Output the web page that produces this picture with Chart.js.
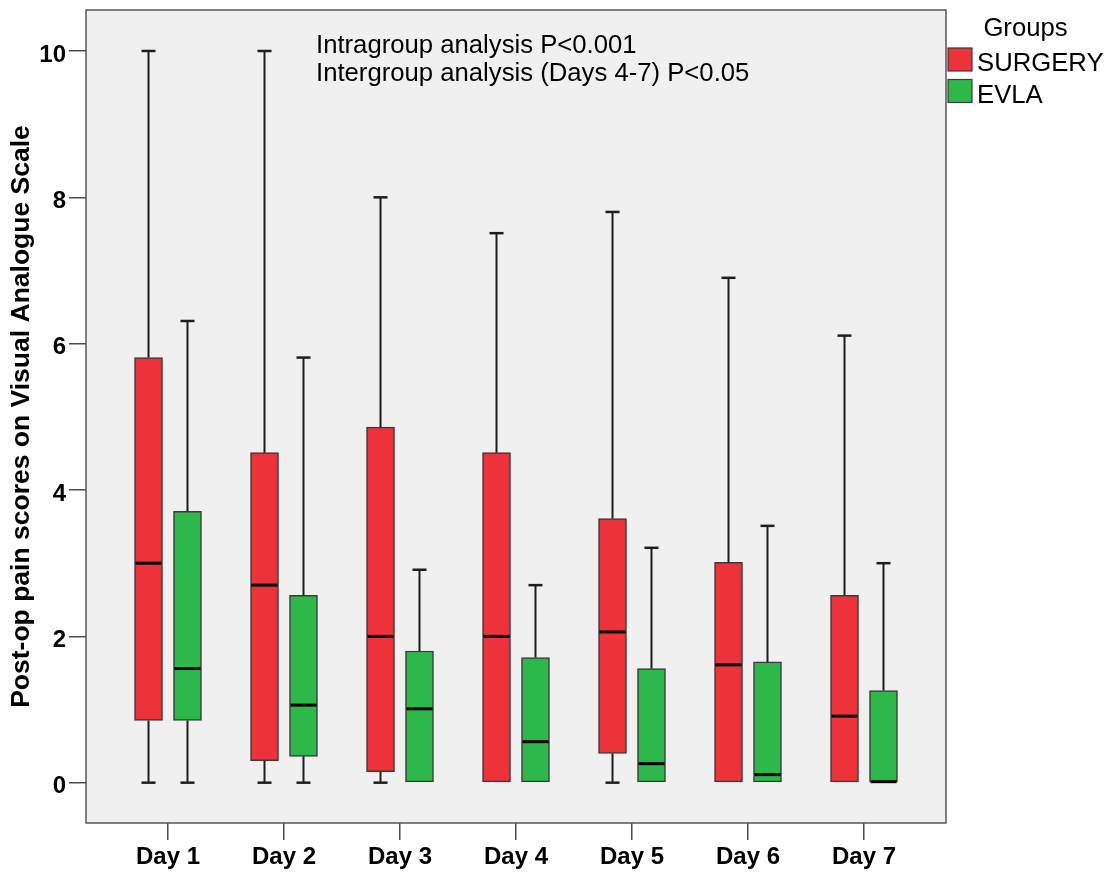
<!DOCTYPE html>
<html><head><meta charset="utf-8">
<script src="https://cdn.jsdelivr.net/npm/chart.js@4.4.1/dist/chart.umd.min.js"></script>
<style>html,body{margin:0;padding:0;background:#fff;}</style>
</head><body>
<canvas id="c" width="1112" height="873"></canvas>
<script>
// ---- data ----
const days = ['Day 1', 'Day 2', 'Day 3', 'Day 4', 'Day 5', 'Day 6', 'Day 7'];
const yTicks = [0, 2, 4, 6, 8, 10];
const groups = ['SURGERY', 'EVLA'];
const surgeryMin    = [0, 0, 0, 0, 0, 0, 0];
const surgeryQ1     = [0.85, 0.30, 0.15, 0, 0.40, 0, 0];
const surgeryMedian = [3.0, 2.70, 2.0, 2.0, 2.06, 1.61, 0.91];
const surgeryQ3     = [5.81, 4.51, 4.86, 4.51, 3.61, 3.01, 2.56];
const surgeryMax    = [10, 10, 8.0, 7.51, 7.80, 6.90, 6.11];
const evlaMin    = [0, 0, 0, 0, 0, 0, 0];
const evlaQ1     = [0.85, 0.36, 0, 0, 0, 0, 0];
const evlaMedian = [1.56, 1.06, 1.01, 0.56, 0.26, 0.11, 0];
const evlaQ3     = [3.71, 2.56, 1.80, 1.71, 1.56, 1.65, 1.26];
const evlaMax    = [6.31, 5.81, 2.91, 2.70, 3.21, 3.51, 3.0];
const noteLines = ['Intragroup analysis P<0.001', 'Intergroup analysis (Days 4-7) P<0.05'];

// ---- styling / layout ----
const RED = '#EE3239', GREEN = '#2DB84A', EDGE = '#3a3a3a';
const FONT = '"Liberation Sans", Arial, sans-serif';
const dayPos = days.map((d, i) => i + 1);
const groupOffset = 0.168;
const stats = [
  {min: surgeryMin, med: surgeryMedian, max: surgeryMax},
  {min: evlaMin, med: evlaMedian, max: evlaMax}
];

const boxPlugin = {
  id: 'boxExtras',
  beforeDraw(chart) {
    const {ctx, chartArea: a} = chart;
    ctx.save();
    ctx.fillStyle = '#f0f0f0';
    ctx.fillRect(a.left, a.top, a.right - a.left, a.bottom - a.top);
    ctx.restore();
  },
  afterDatasetsDraw(chart) {
    const ctx = chart.ctx, ys = chart.scales.y;
    ctx.save();
    stats.forEach((s, d) => {
      const meta = chart.getDatasetMeta(d);
      meta.data.forEach((el, i) => {
        const raw = chart.data.datasets[d].data[i].y;
        const q1 = raw[0], q3 = raw[1];
        const x = el.x, w = el.width;
        ctx.strokeStyle = '#1e1e1e';
        if (s.max[i] > q3) {
          ctx.lineWidth = 2;
          ctx.beginPath(); ctx.moveTo(x, ys.getPixelForValue(q3)); ctx.lineTo(x, ys.getPixelForValue(s.max[i])); ctx.stroke();
          ctx.lineWidth = 2.5;
          ctx.beginPath(); ctx.moveTo(x - 7, ys.getPixelForValue(s.max[i])); ctx.lineTo(x + 7, ys.getPixelForValue(s.max[i])); ctx.stroke();
        }
        if (s.min[i] < q1) {
          ctx.lineWidth = 2;
          ctx.beginPath(); ctx.moveTo(x, ys.getPixelForValue(q1)); ctx.lineTo(x, ys.getPixelForValue(s.min[i])); ctx.stroke();
          ctx.lineWidth = 2.5;
          ctx.beginPath(); ctx.moveTo(x - 7, ys.getPixelForValue(s.min[i])); ctx.lineTo(x + 7, ys.getPixelForValue(s.min[i])); ctx.stroke();
        }
        ctx.strokeStyle = '#000';
        ctx.lineWidth = 3;
        const my = ys.getPixelForValue(s.med[i]) - (s.med[i] <= q1 ? 1 : 0);
        ctx.beginPath(); ctx.moveTo(x - w / 2 + 1, my); ctx.lineTo(x + w / 2 - 1, my); ctx.stroke();
      });
    });
    ctx.restore();
  },
  afterDraw(chart) {
    const {ctx, chartArea: a} = chart;
    ctx.save();
    ctx.strokeStyle = '#555';
    ctx.lineWidth = 1.5;
    ctx.strokeRect(a.left, a.top, a.right - a.left, a.bottom - a.top);
    // annotation
    ctx.fillStyle = '#000';
    ctx.font = '25.7px ' + FONT;
    ctx.textAlign = 'left';
    ctx.textBaseline = 'alphabetic';
    ctx.fillText(noteLines[0], 316, 53);
    ctx.fillText(noteLines[1], 316, 81);
    // legend
    ctx.textAlign = 'center';
    ctx.fillText('Groups', 1025.5, 36);
    ctx.textAlign = 'left';
    const cols = [RED, GREEN];
    groups.forEach((g, k) => {
      const top = 48 + k * 31.5;
      ctx.fillStyle = cols[k];
      ctx.fillRect(948, top, 24, 23);
      ctx.strokeStyle = EDGE; ctx.lineWidth = 1.2;
      ctx.strokeRect(948, top, 24, 23);
      ctx.fillStyle = '#000';
      ctx.fillText(g, 977, top + 23);
    });
    ctx.restore();
  }
};

new Chart(document.getElementById('c'), {
  type: 'bar',
  data: {
    datasets: [
      {label: groups[0], data: dayPos.map((p, i) => ({x: p - groupOffset, y: [surgeryQ1[i], surgeryQ3[i]]})),
       backgroundColor: RED, borderColor: EDGE, borderWidth: 1.5, borderSkipped: false, barThickness: 28, grouped: false},
      {label: groups[1], data: dayPos.map((p, i) => ({x: p + groupOffset, y: [evlaQ1[i], evlaQ3[i]]})),
       backgroundColor: GREEN, borderColor: EDGE, borderWidth: 1.5, borderSkipped: false, barThickness: 28, grouped: false}
    ]
  },
  options: {
    responsive: false, animation: false, devicePixelRatio: 1,
    layout: {padding: {top: 10, right: 166, left: 0, bottom: 0}},
    plugins: {legend: {display: false}, tooltip: {enabled: false}},
    scales: {
      x: {
        type: 'linear', min: 1 - 82 / 116, max: 7 + 82 / 116, offset: false,
        grid: {offset: false, drawOnChartArea: false, tickLength: 17, color: '#4d4d4d', lineWidth: 1.5},
        border: {display: false},
        afterBuildTicks: s => { s.ticks = dayPos.map(v => ({value: v})); },
        ticks: {callback: v => days[Math.round(v) - 1], font: {family: FONT, size: 24, weight: 'bold'}, color: '#000', padding: 3, maxRotation: 0, autoSkip: false},
        afterFit: s => { s.height = 50; s.paddingLeft = 0; s.paddingRight = 0; }
      },
      y: {
        type: 'linear', min: -0.551, max: 10.56,
        grid: {drawOnChartArea: false, tickLength: 17, color: '#4d4d4d', lineWidth: 1.5},
        border: {display: false},
        afterBuildTicks: s => { s.ticks = yTicks.map(v => ({value: v})); },
        ticks: {font: {family: FONT, size: 24, weight: 'bold'}, color: '#000', padding: 3, labelOffset: 4},
        title: {display: true, text: 'Post-op pain scores on Visual Analogue Scale', color: '#000',
                font: {family: FONT, size: 26.5, weight: 'bold'}, padding: {top: 6, bottom: 0}},
        afterFit: s => { s.width = 86; s.paddingTop = 0; s.paddingBottom = 0; }
      }
    }
  },
  plugins: [boxPlugin]
});
</script>
</body></html>
